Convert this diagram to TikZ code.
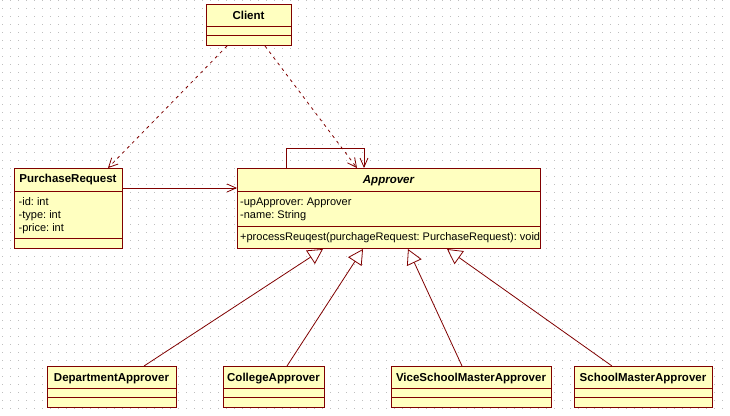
\documentclass[tikz,border=0pt]{standalone}
\usepackage{fontspec}
\setmainfont{Liberation Sans}
\usetikzlibrary{arrows.meta,calc}
\definecolor{umlline}{RGB}{128,0,0}
\definecolor{umlfill}{RGB}{255,255,192}
\definecolor{griddot}{RGB}{190,190,190}
\frenchspacing
\begin{document}
\begin{tikzpicture}[x=1pt,y=-1pt,
  cls/.style={draw=umlline, fill=umlfill, line width=1pt, inner sep=0pt, anchor=north west},
  sepline/.style={draw=umlline, line width=1pt},
  title/.style={font=\fontsize{11.5}{13}\selectfont\bfseries, anchor=base, inner sep=0pt},
  member/.style={font=\fontsize{11}{13}\selectfont, anchor=base west, inner sep=0pt},
  depend/.style={draw=umlline, line width=0.8pt, dash pattern=on 3pt off 4pt,
    -{Straight Barb[length=9pt,width=9pt,line width=0.8pt]}},
  assoc/.style={draw=umlline, line width=0.8pt,
    -{Straight Barb[length=9pt,width=8pt,line width=0.8pt]}},
  gen/.style={draw=umlline, line width=0.8pt,
    -{Triangle[open, length=15pt, width=16pt, line width=0.8pt, fill=white]}}
]
% canvas and dotted grid
\useasboundingbox (0,0) rectangle (730,415);
\fill[white] (0,0) rectangle (730,415);
\foreach \x in {2,10,...,730}
  \foreach \y in {0,8,...,415}
    \fill[griddot] (\x,\y) rectangle ++(1,1);

% Client
\node[cls, minimum width=85pt, minimum height=41pt] (client) at (206,4) {};
\draw[sepline] (206,26) -- (291,26);
\draw[sepline] (206,35) -- (291,35);
\node[title] (clientT) at (248.5,19) {Client};

% PurchaseRequest
\node[cls, minimum width=108pt, minimum height=80pt] (purchase) at (14,168) {};
\draw[sepline] (14,191) -- (122,191);
\draw[sepline] (14,238) -- (122,238);
\node[title] (purchaseT) at (68,182.5) {PurchaseRequest};
\node[member] (prId) at (18.5,205.5) {-id: int};
\node[member] (prType) at (18.5,218) {-type: int};
\node[member] (prPrice) at (18.5,231) {-price: int};

% Approver
\node[cls, minimum width=303pt, minimum height=80pt] (approver) at (237,168) {};
\draw[sepline] (237,191) -- (540,191);
\draw[sepline] (237,226) -- (540,226);
\node[title, font=\fontsize{11.5}{13}\selectfont\bfseries\itshape] (approverT) at (388.5,183) {Approver};
\node[member] (apUp) at (240,205.5) {-upApprover: Approver};
\node[member] (apName) at (240,218) {-name: String};
\node[member] (apProc) at (240,240.5) {+processReuqest(purchageRequest: PurchaseRequest): void};

% concrete approvers
\node[cls, minimum width=129pt, minimum height=41pt] (dept) at (47,366) {};
\draw[sepline] (47,388) -- (176,388);
\draw[sepline] (47,397) -- (176,397);
\node[title] (deptT) at (111.5,381) {DepartmentApprover};

\node[cls, minimum width=101pt, minimum height=41pt] (college) at (223,366) {};
\draw[sepline] (223,388) -- (324,388);
\draw[sepline] (223,397) -- (324,397);
\node[title] (collegeT) at (273.5,381) {CollegeApprover};

\node[cls, minimum width=160pt, minimum height=41pt] (vice) at (391,366) {};
\draw[sepline] (391,388) -- (551,388);
\draw[sepline] (391,397) -- (551,397);
\node[title] (viceT) at (471,381) {ViceSchoolMasterApprover};

\node[cls, minimum width=138pt, minimum height=41pt] (school) at (574,366) {};
\draw[sepline] (574,388) -- (712,388);
\draw[sepline] (574,397) -- (712,397);
\node[title] (schoolT) at (643,381) {SchoolMasterApprover};

% dependencies of Client
\draw[depend] ($(client.south west)+(21,0)$) -- ($(purchase.north west)+(94,0)$);
\draw[depend] ($(client.south west)+(59,0)$) -- ($(approver.north west)+(120,0)$);

% associations
\draw[assoc] ($(purchase.north east)+(0,20)$) -- ($(approver.north west)+(0,20)$);
\draw[assoc] ($(approver.north west)+(49,0)$) -- ++(0,-20) -| ($(approver.north west)+(127,0)$);

% generalizations
\draw[gen] ($(dept.north west)+(97,0)$) -- ($(approver.south west)+(86,0)$);
\draw[gen] ($(college.north west)+(64,0)$) -- ($(approver.south west)+(126,0)$);
\draw[gen] ($(vice.north west)+(71,0)$) -- ($(approver.south west)+(171,0)$);
\draw[gen] ($(school.north west)+(38,0)$) -- ($(approver.south west)+(210,0)$);
\end{tikzpicture}
\end{document}
